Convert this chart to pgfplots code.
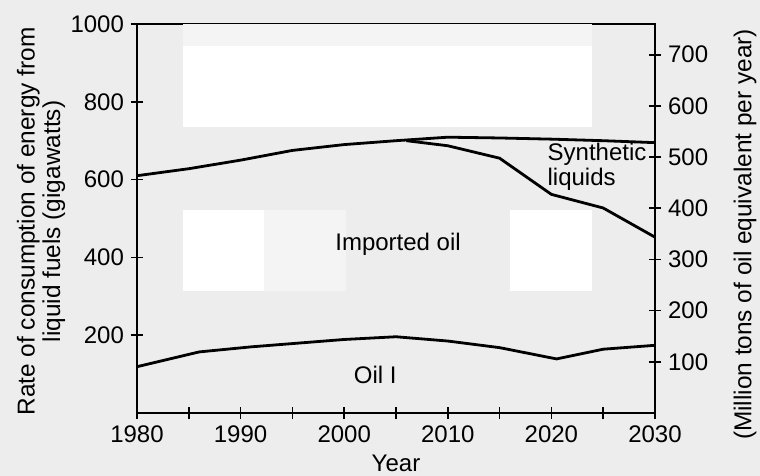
\documentclass[border=0pt]{standalone}
\usepackage{pgfplots}
\pgfplotsset{compat=1.18}
\usepackage{fontspec}
\setmainfont{Liberation Sans}
\usetikzlibrary{backgrounds}
\definecolor{bg}{RGB}{237,237,237}
\definecolor{lite}{RGB}{244,244,244}
\begin{document}
\begin{tikzpicture}[font=\fontsize{12}{13.5}\selectfont]
\begin{axis}[
  name=main,
  scale only axis, width=259pt, height=194.5pt,
  xmin=1980, xmax=2030, ymin=0, ymax=1000,
  axis line style={line width=0.9pt},
  every tick/.style={line width=0.8pt, black},
  tick align=center,
  major tick length=6pt, minor tick length=6pt,
  xtick={1980,1990,...,2030}, minor xtick={1985,1995,...,2025},
  ytick={200,400,...,1000}, minor ytick={},
  ytick pos=left,
  xtick pos=bottom,
  /pgf/number format/assume math mode=true,
  /pgf/number format/1000 sep={},
  xlabel={Year},
  xlabel style={at={(rel axis cs:0.5,0)}, anchor=center, yshift=-25pt},
  ylabel={Rate of consumption of energy from\\liquid fuels (gigawatts)},
  ylabel style={at={(rel axis cs:0,0.5)}, anchor=center, align=center, yshift=48pt, xshift=-1.5pt, font=\fontsize{12.2}{12.8}\selectfont},
  clip=false,
]
\fill[white] (axis cs:1984.4,734) rectangle (axis cs:2023.9,944);
\fill[lite] (axis cs:1984.4,944) rectangle (axis cs:2023.9,1000);
\fill[white] (axis cs:1984.4,314) rectangle (axis cs:1992.3,523);
\fill[lite] (axis cs:1992.3,314) rectangle (axis cs:2000.2,523);
\fill[white] (axis cs:2016,314) rectangle (axis cs:2023.9,523);
\addplot[black, line width=1.4pt] coordinates {
 (1980,610) (1985,628) (1990,650) (1995,675) (2000,690) (2005,700)
 (2010,709) (2015,707) (2020,704) (2025,700) (2030,695)};
\addplot[black, line width=1.4pt] coordinates {
 (2006,700) (2010,687) (2015,655) (2020,562) (2025,527) (2030,452)};
\addplot[black, line width=1.4pt] coordinates {
 (1980,119) (1986,157) (1991,170) (2000,189) (2005,196) (2010,185)
 (2015,168) (2020.5,139) (2025,164) (2030,174)};
\node[anchor=west, align=left, inner sep=0pt, font=\fontsize{12}{12.5}\selectfont] at (axis cs:2019.6,634) {Synthetic\\liquids};
\node at (axis cs:2005.2,433) {Imported oil};
\node at (axis cs:2003,97) {Oil I};
\end{axis}
\begin{axis}[
  scale only axis, width=259pt, height=194.5pt,
  xmin=1980, xmax=2030, ymin=0, ymax=760,
  axis x line=none,
  axis y line*=right,
  axis line style={line width=0.9pt, -},
  every tick/.style={line width=0.8pt, black},
  tick align=center,
  major tick length=6pt,
  ytick={100,200,...,700},
  /pgf/number format/assume math mode=true,
  ylabel={(Million tons of oil equivalent per year)},
  ylabel style={at={(rel axis cs:1,0.5)}, anchor=center, yshift=-45pt, xshift=-8pt, font=\fontsize{12.2}{13}\selectfont},
]
\addplot[draw=none] coordinates {(1980,0)};
\end{axis}
\pgfresetboundingbox
\begin{scope}[on background layer]
\fill[bg] ([shift={(-68.5pt,-31.5pt)}]main.south west) rectangle ([shift={(52.5pt,12pt)}]main.north east);
\end{scope}
\useasboundingbox ([shift={(-68.5pt,-31.5pt)}]main.south west) rectangle ([shift={(52.5pt,12pt)}]main.north east);
\end{tikzpicture}
\end{document}
